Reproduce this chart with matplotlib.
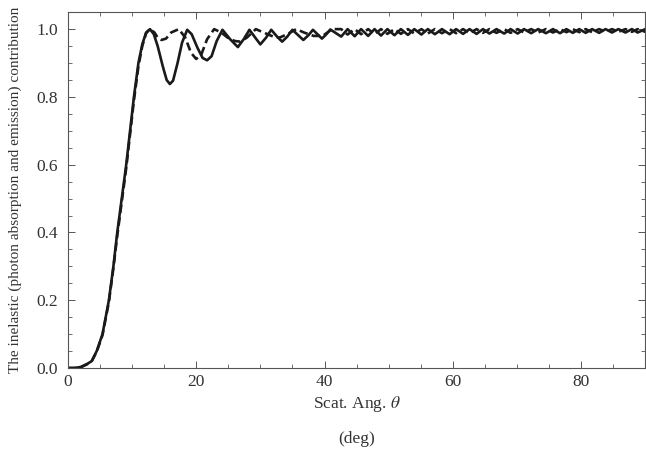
import numpy as np
import matplotlib
matplotlib.use('Agg')
import matplotlib.pyplot as plt
from matplotlib.ticker import MultipleLocator

# solid curve (deg, contribution)
solid_x = [0, 1, 2, 3, 3.7, 4.5, 5.4, 6.4, 7.1, 7.7, 8.4, 9.1, 9.7, 10.3, 11.0, 11.6, 12.2, 12.8,
           13.4, 14.0, 14.8, 15.4, 15.9, 16.4, 17.1, 17.8, 18.6, 19.3, 20.2, 21.0, 21.7, 22.4, 23.2,
           24.1, 25.3, 26.5, 27.4, 28.3, 29.2, 30.0, 30.9, 31.7, 32.6, 33.4, 34.2, 35.0, 35.9, 36.7,
           37.5, 38.2, 38.9, 39.6, 40.3, 40.9,
           42.6, 43.6, 44.7, 45.7, 46.8, 47.8, 48.8, 49.8, 50.9, 51.9, 53.0, 54.0, 55.1, 56.1, 57.2,
           58.3, 59.5, 60.5, 61.6, 62.6, 63.7, 64.7, 65.7, 66.8, 68.0, 69.0, 70.1, 71.1, 72.2, 73.3,
           74.5, 75.6, 76.7, 77.7, 78.7, 79.7, 80.7, 81.7, 82.8, 83.8, 84.8, 85.8, 86.9, 87.9, 88.8, 90.0]
solid_y = [0, 0.0, 0.003, 0.012, 0.02, 0.05, 0.10, 0.20, 0.30, 0.40, 0.50, 0.60, 0.70, 0.80, 0.90, 0.955, 0.99, 1.0,
           0.985, 0.95, 0.89, 0.85, 0.838, 0.848, 0.90, 0.96, 0.998, 0.985, 0.945, 0.915, 0.908, 0.92, 0.965,
           0.998, 0.97, 0.947, 0.97, 0.998, 0.975, 0.955, 0.975, 0.998, 0.978, 0.963, 0.978, 0.998, 0.982, 0.968,
           0.982, 0.998, 0.985, 0.972, 0.985, 0.999,
           0.978, 1.0, 0.979, 1.0, 0.980, 1.0, 0.981, 1.0, 0.982, 1.0, 0.983, 1.0, 0.984, 1.0, 0.985,
           1.0, 0.985, 1.0, 0.986, 1.0, 0.986, 1.0, 0.987, 1.0, 0.987, 1.0, 0.987, 1.0, 0.988, 1.0,
           0.988, 1.0, 0.988, 1.0, 0.989, 1.0, 0.989, 1.0, 0.989, 1.0, 0.990, 1.0, 0.990, 1.0, 0.990, 1.0]

# dashed curve
dash_x = [0, 1, 2, 3, 3.7, 4.5, 5.4, 6.4, 7.1, 7.7, 8.4, 9.1, 9.7, 10.3, 11.0, 11.6, 12.2, 12.8,
          13.5, 14.0, 14.6, 15.3, 16.1, 17.3, 18.3, 19.2, 20.0, 20.8, 21.7, 22.8, 23.9, 24.9, 26.0,
          26.9, 27.9, 29.3, 30.5, 32.0, 33.0, 34.2, 35.6, 36.8, 38.3, 39.7, 41.2,
          42.6, 43.6, 44.7, 45.7, 46.8, 47.8, 48.8, 49.8, 50.9, 51.9, 53.0, 54.0, 55.1, 56.1, 57.2,
          58.3, 59.5, 60.5, 61.6, 62.6, 63.7, 64.7, 65.7, 66.8, 68.0, 69.0, 70.1, 71.1, 72.2, 73.3,
          74.5, 75.6, 76.7, 77.7, 78.7, 79.7, 80.7, 81.7, 82.8, 83.8, 84.8, 85.8, 86.9, 87.9, 88.8, 90.0]
dash_y = [0, 0.0, 0.002, 0.011, 0.019, 0.048, 0.097, 0.195, 0.295, 0.39, 0.49, 0.59, 0.69, 0.79, 0.89, 0.95, 0.988, 1.0,
          0.99, 0.975, 0.968, 0.972, 0.99, 1.0, 0.975, 0.93, 0.912, 0.925, 0.97, 1.0, 0.99, 0.975, 0.965,
          0.963, 0.975, 1.0, 0.99, 0.978, 0.975, 0.985, 1.0, 0.99, 0.98, 0.98, 1.0,
          1.0, 0.984, 1.0, 0.985, 1.0, 0.985, 1.0, 0.986, 1.0, 0.986, 1.0, 0.987, 1.0, 0.987, 1.0,
          0.988, 1.0, 0.988, 1.0, 0.988, 1.0, 0.989, 1.0, 0.989, 1.0, 0.989, 1.0, 0.990, 1.0, 0.990,
          1.0, 0.990, 1.0, 0.991, 1.0, 0.991, 1.0, 0.991, 1.0, 0.992, 1.0, 0.992, 1.0, 0.992, 1.0, 0.992]

x_ticks = [0, 20, 40, 60, 80]
y_ticks = [0.0, 0.2, 0.4, 0.6, 0.8, 1.0]

plt.rcParams['font.family'] = ['Liberation Serif', 'DejaVu Serif']
plt.rcParams['mathtext.fontset'] = 'stix'

fig = plt.figure(figsize=(6.46, 4.51), dpi=100)
ax = fig.add_axes([0.105, 0.184, 0.894, 0.789])

ax.plot(solid_x, solid_y, color='#1a1a1a', lw=1.9, solid_joinstyle='round')
ax.plot(dash_x, dash_y, color='#1a1a1a', lw=1.9, dashes=(3.2, 1.6))

ax.set_xlim(0, 90)
ax.set_ylim(0, 1.05)
ax.set_xticks(x_ticks)
ax.set_yticks(y_ticks)
ax.set_xticklabels([str(t) for t in x_ticks])
ax.set_yticklabels(['%.1f' % t for t in y_ticks])
ax.xaxis.set_minor_locator(MultipleLocator(5))
ax.yaxis.set_minor_locator(MultipleLocator(0.05))

ax.tick_params(which='both', direction='in', top=True, right=True, color='#555555', labelsize=12.5,
               labelcolor='#333333')
ax.tick_params(which='major', length=5, width=0.7)
ax.tick_params(which='minor', length=2.8, width=0.6)
ax.tick_params(axis='y', which='major', pad=7)
ax.tick_params(axis='x', which='major', pad=4)
for s in ax.spines.values():
    s.set_color('#555555')
    s.set_linewidth(0.8)

ax.set_xlabel('Scat. Ang. $\\theta$\n(deg)', fontsize=12.5, color='#333333', linespacing=2.4, labelpad=3)
ax.set_ylabel('The inelastic (photon absorption and emission) contribution', fontsize=11,
              color='#333333')
ax.yaxis.set_label_coords(-0.079, 0.5)

fig.savefig('out.png', dpi=100)
